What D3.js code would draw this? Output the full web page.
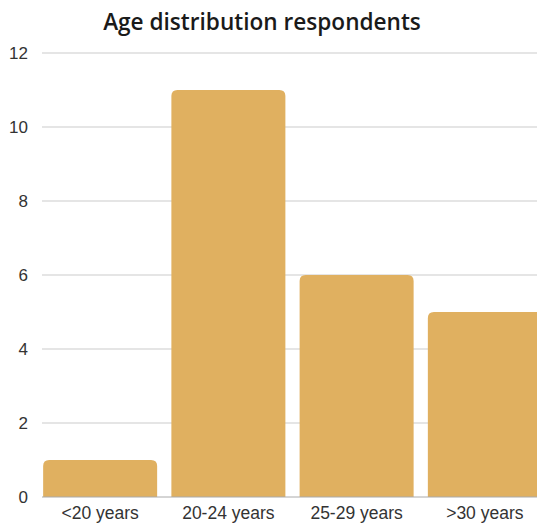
<!DOCTYPE html>
<html>
<head>
<meta charset="utf-8">
<script src="https://cdn.jsdelivr.net/npm/d3@7"></script>
<style>
  html, body { margin: 0; padding: 0; background: #fff; overflow: hidden; }
  svg { display: block; }
</style>
</head>
<body>
<svg id="chart" width="537" height="523"></svg>
<script>
// Age groups and respondent counts
const categories = ["<20 years", "20-24 years", "25-29 years", ">30 years"];
const counts = [1, 11, 6, 5];
const yTicks = [0, 2, 4, 6, 8, 10, 12];
const title = "Age distribution respondents";

const W = 537, H = 523;
const svg = d3.select("#chart");

const x = d3.scaleBand()
  .domain(categories)
  .range([36, 549])
  .paddingInner(0.111)
  .paddingOuter(0.0557);

const y = d3.scaleLinear().domain([0, 12]).range([497, 53]);

// Horizontal gridlines
svg.append("g")
  .selectAll("line")
  .data(yTicks.filter(d => d !== 0))
  .join("line")
  .attr("x1", 42).attr("x2", W)
  .attr("y1", d => y(d)).attr("y2", d => y(d))
  .attr("stroke", "#dcdcdc")
  .attr("stroke-width", 1.5);

// Y tick labels
svg.append("g")
  .selectAll("text")
  .data(yTicks)
  .join("text")
  .attr("x", 28)
  .attr("y", d => y(d))
  .attr("dy", "0.35em")
  .attr("text-anchor", "end")
  .attr("font-family", "Liberation Sans, Arial, sans-serif")
  .attr("font-size", 17)
  .attr("fill", "#333")
  .text(d => d);

// Bars with rounded top corners
const r = 6;
function barPath(d, i) {
  const x0 = x(categories[i]);
  const w = x.bandwidth();
  const y0 = y(d), yb = y(0);
  const rr = Math.min(r, (yb - y0));
  return `M${x0},${yb}V${y0 + rr}Q${x0},${y0} ${x0 + rr},${y0}` +
         `H${x0 + w - rr}Q${x0 + w},${y0} ${x0 + w},${y0 + rr}V${yb}Z`;
}
svg.append("g")
  .selectAll("path")
  .data(counts)
  .join("path")
  .attr("d", barPath)
  .attr("fill", "#e0b060");

// Baseline
svg.append("line")
  .attr("x1", 42).attr("x2", W)
  .attr("y1", y(0)).attr("y2", y(0))
  .attr("stroke", "#aaa")
  .attr("stroke-width", 1);

// X labels
svg.append("g")
  .selectAll("text")
  .data(categories)
  .join("text")
  .attr("x", d => x(d) + x.bandwidth() / 2)
  .attr("y", 519)
  .attr("text-anchor", "middle")
  .attr("font-family", "Liberation Sans, Arial, sans-serif")
  .attr("font-size", 17.5)
  .attr("fill", "#333")
  .text(d => d);

// Title
svg.append("text")
  .attr("x", 262)
  .attr("y", 30)
  .attr("text-anchor", "middle")
  .attr("font-family", "Open Sans, sans-serif")
  .attr("font-weight", 600)
  .attr("font-size", 22.6)
  .attr("fill", "#1a1a1a")
  .text(title);
</script>
</body>
</html>
